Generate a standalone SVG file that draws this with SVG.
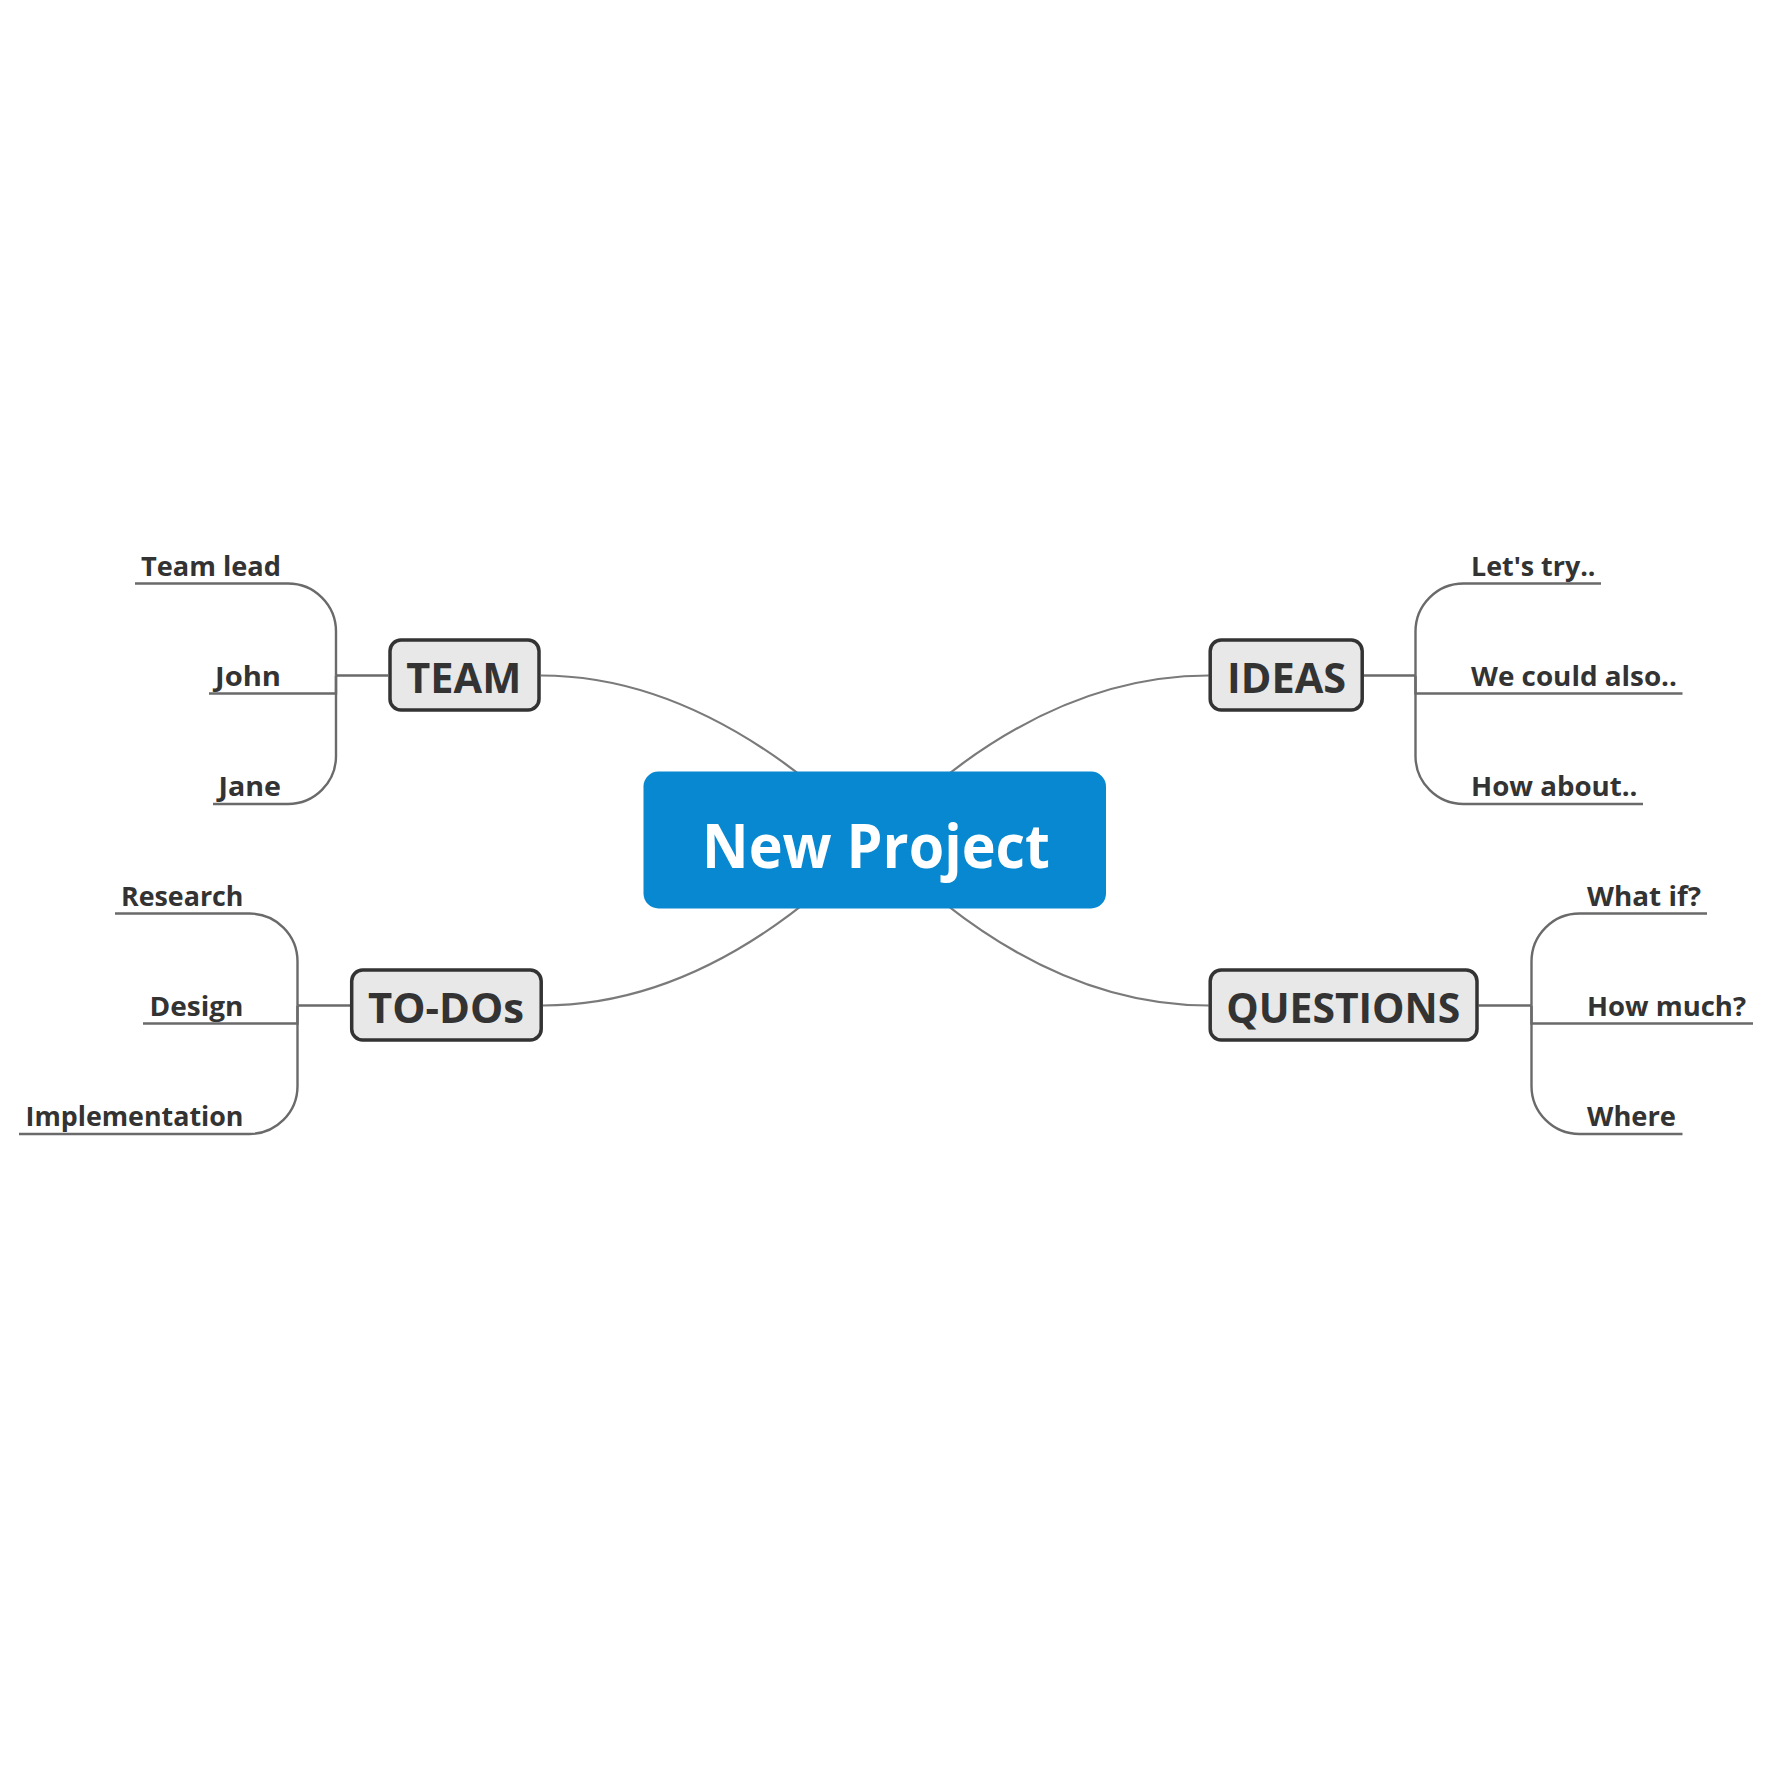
<svg xmlns="http://www.w3.org/2000/svg" width="1780" height="1780" viewBox="0 0 1780 1780">
<style>
.main{fill:none;stroke:#7a7a7a;stroke-width:2.2}
.sub{fill:none;stroke:#6a6a6a;stroke-width:2.4}
.topic rect{fill:#e8e8e8;stroke:#333333;stroke-width:3.5}
.topic text{font-family:"Open Sans","Noto Sans","Liberation Sans",sans-serif;font-weight:bold;font-size:41px;fill:#333333;text-anchor:middle}
.leaf{font-family:"Open Sans","Noto Sans","Liberation Sans",sans-serif;font-weight:bold;font-size:26px;fill:#333333}
.l{text-anchor:end}
.r{text-anchor:start}
.center text{font-family:"Open Sans","Noto Sans","Liberation Sans",sans-serif;font-weight:bold;font-size:60px;fill:#ffffff;text-anchor:middle}
</style>
<rect width="1780" height="1780" fill="#ffffff"/>
<g id="connectors">
<path class="main" d="M 541 675.5 Q 707.6 675.5 874.5 840"/>
<path class="main" d="M 1208.7 675.5 Q 1037 675.5 874.5 840"/>
<path class="main" d="M 542.7 1005.5 Q 712 1005.5 874.5 840"/>
<path class="main" d="M 1208.7 1005.5 Q 1037 1005.5 874.5 840"/>
<path class="sub" d="M 388 675.5 H 336"/>
<path class="sub" d="M 336 675.5 V 631.5 A 48 48 0 0 0 288 583.5 H 135"/>
<path class="sub" d="M 336 675.5 V 693.5 H 209"/>
<path class="sub" d="M 336 675.5 V 756 A 48 48 0 0 1 288 804 H 213"/>
<path class="sub" d="M 1363.7 675.5 H 1415.5"/>
<path class="sub" d="M 1415.5 675.5 V 631.5 A 48 48 0 0 1 1463.5 583.5 H 1601"/>
<path class="sub" d="M 1415.5 675.5 V 693.5 H 1682.5"/>
<path class="sub" d="M 1415.5 675.5 V 756 A 48 48 0 0 0 1463.5 804 H 1643"/>
<path class="sub" d="M 350 1005.5 H 297.5"/>
<path class="sub" d="M 297.5 1005.5 V 961.5 A 48 48 0 0 0 249.5 913.5 H 115"/>
<path class="sub" d="M 297.5 1005.5 V 1023.5 H 143"/>
<path class="sub" d="M 297.5 1005.5 V 1086 A 48 48 0 0 1 249.5 1134 H 19"/>
<path class="sub" d="M 1478.5 1005.5 H 1531.5"/>
<path class="sub" d="M 1531.5 1005.5 V 961.5 A 48 48 0 0 1 1579.5 913.5 H 1707"/>
<path class="sub" d="M 1531.5 1005.5 V 1023.5 H 1753"/>
<path class="sub" d="M 1531.5 1005.5 V 1086 A 48 48 0 0 0 1579.5 1134 H 1682.5"/>
</g>
<g id="center" class="center">
<rect x="643.5" y="771.5" width="462.5" height="137" rx="15" fill="#0788d0"/>
<text x="876" y="867.5" textLength="348" lengthAdjust="spacingAndGlyphs">New Project</text>
</g>
<g id="team" class="topic">
<rect x="390" y="640" width="149" height="70" rx="11"/>
<text x="463.8" y="693.3" textLength="115" lengthAdjust="spacingAndGlyphs">TEAM</text>
</g>
<g id="ideas" class="topic">
<rect x="1210.2" y="640" width="152" height="70" rx="11"/>
<text x="1286.6" y="693.3" textLength="119" lengthAdjust="spacingAndGlyphs">IDEAS</text>
</g>
<g id="todos" class="topic">
<rect x="351.7" y="970" width="189.5" height="70" rx="11"/>
<text x="446" y="1023.3" textLength="156" lengthAdjust="spacingAndGlyphs">TO-DOs</text>
</g>
<g id="questions" class="topic">
<rect x="1210.2" y="970" width="266.8" height="70" rx="11"/>
<text x="1343.2" y="1023.3" textLength="234" lengthAdjust="spacingAndGlyphs">QUESTIONS</text>
</g>
<g id="team-lead"><text class="leaf l" x="281" y="575.7" textLength="140" lengthAdjust="spacingAndGlyphs">Team lead</text></g>
<g id="john"><text class="leaf l" x="281" y="685.7" textLength="66" lengthAdjust="spacingAndGlyphs">John</text></g>
<g id="jane"><text class="leaf l" x="281" y="795.7" textLength="62.5" lengthAdjust="spacingAndGlyphs">Jane</text></g>
<g id="research"><text class="leaf l" x="243.5" y="905.7" textLength="122.5" lengthAdjust="spacingAndGlyphs">Research</text></g>
<g id="design"><text class="leaf l" x="243.5" y="1015.7" textLength="94" lengthAdjust="spacingAndGlyphs">Design</text></g>
<g id="implementation"><text class="leaf l" x="243.5" y="1125.7" textLength="218" lengthAdjust="spacingAndGlyphs">Implementation</text></g>
<g id="lets-try"><text class="leaf r" x="1471" y="575.7" textLength="124.5" lengthAdjust="spacingAndGlyphs">Let's try..</text></g>
<g id="we-could-also"><text class="leaf r" x="1471" y="685.7" textLength="206" lengthAdjust="spacingAndGlyphs">We could also..</text></g>
<g id="how-about"><text class="leaf r" x="1471" y="795.7" textLength="166.5" lengthAdjust="spacingAndGlyphs">How about..</text></g>
<g id="what-if"><text class="leaf r" x="1587" y="905.7" textLength="114" lengthAdjust="spacingAndGlyphs">What if?</text></g>
<g id="how-much"><text class="leaf r" x="1587" y="1015.7" textLength="159" lengthAdjust="spacingAndGlyphs">How much?</text></g>
<g id="where"><text class="leaf r" x="1587" y="1125.7" textLength="89" lengthAdjust="spacingAndGlyphs">Where</text></g>
</svg>
